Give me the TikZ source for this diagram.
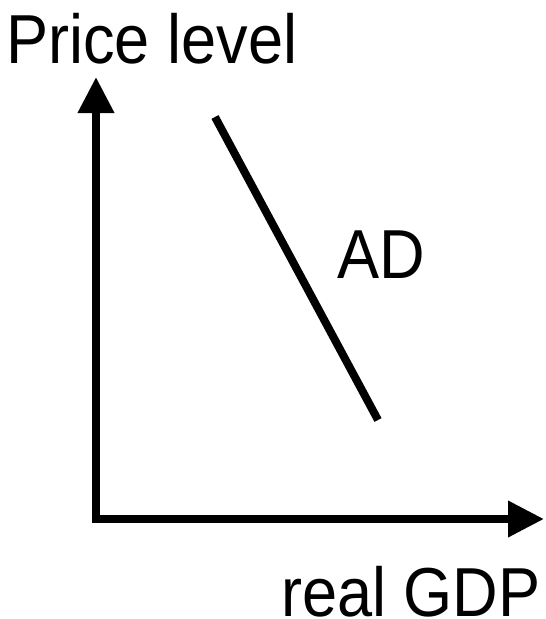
\documentclass[tikz,border=0pt]{standalone}
\usepackage{fontspec}
\setmainfont{Liberation Sans}
\usepackage{tikz}
\usetikzlibrary{arrows.meta, positioning}

\begin{document}
\begin{tikzpicture}[x=0.75pt, y=-0.75pt,
    axis/.style={line width=6pt, {Triangle[length=27pt,width=26pt]}-{Triangle[length=27pt,width=26pt]}},
    curve/.style={line width=6pt},
    lbl/.style={inner sep=0pt, anchor=base west, xscale=0.91, font=\fontsize{52}{52}\selectfont}]
    \useasboundingbox (0,0) rectangle (546,619);

    % Assi
    \coordinate (ytop) at (96,77);
    \coordinate (orig) at (96,519);
    \coordinate (xend) at (544,519);
    \draw[axis] (ytop) -- (orig) -- (xend);

    % Curva AD
    \coordinate (adtop) at (215,117);
    \coordinate (adbot) at (378,420);
    \draw[curve] (adtop) -- (adbot);

    % Etichette
    \node[lbl] (plabel) at (6,63) {Price level};
    \node[lbl] (adlabel) at (337,278) {AD};
    \node[lbl] (xlabel) at (281,616) {real GDP};
\end{tikzpicture}
\end{document}
